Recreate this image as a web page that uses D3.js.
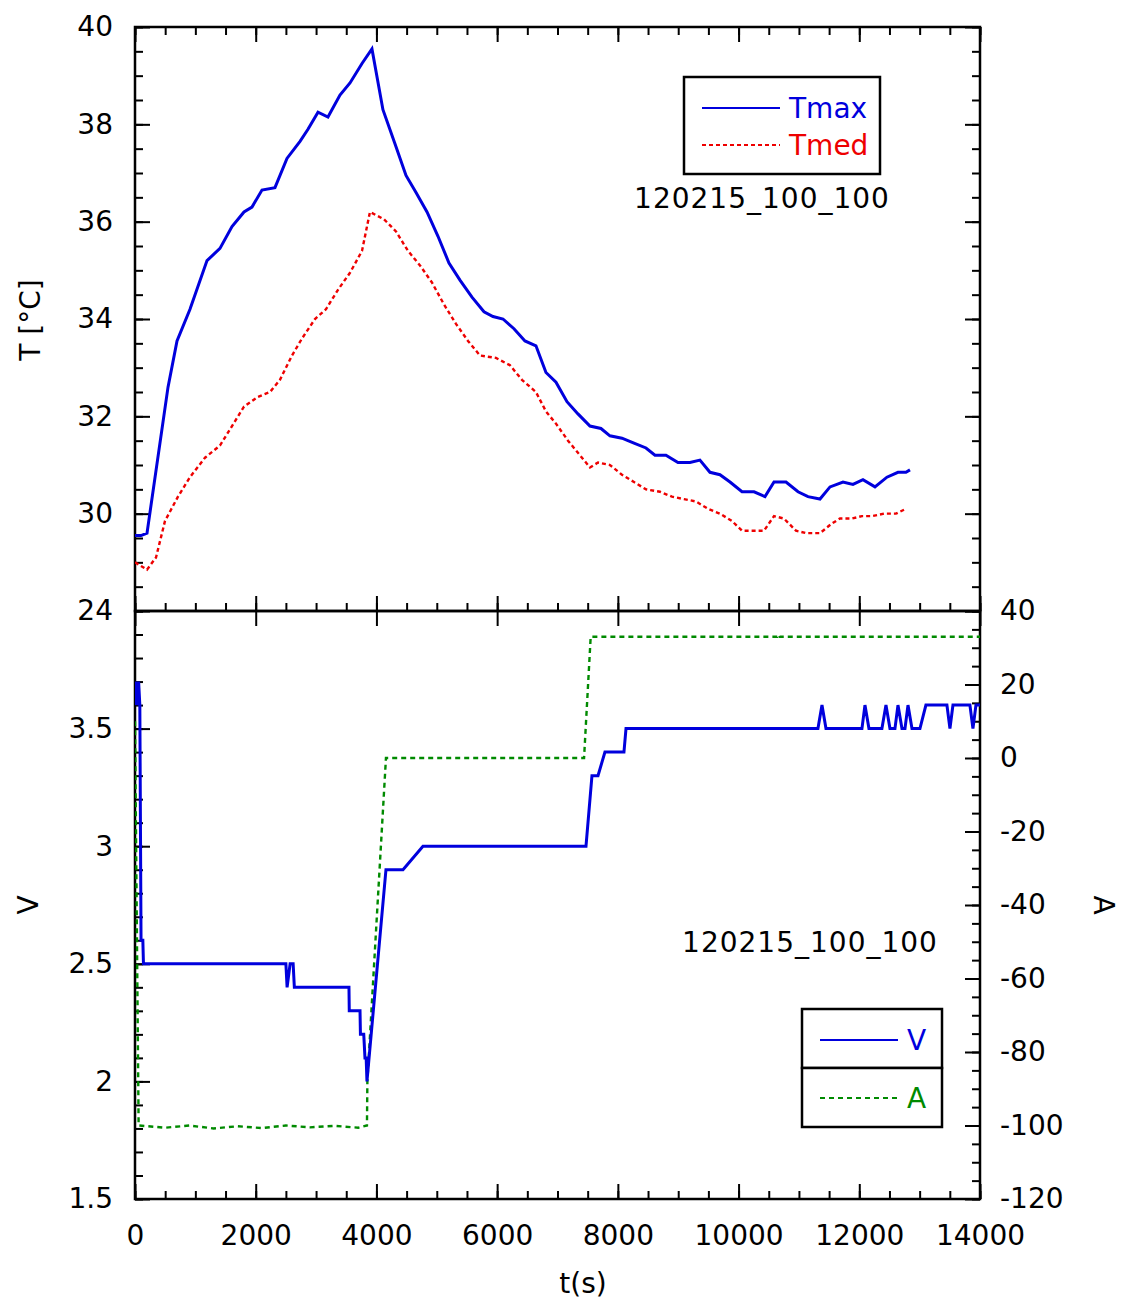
<!DOCTYPE html>
<html>
<head>
<meta charset="utf-8">
<script src="https://cdn.jsdelivr.net/npm/d3@7"></script>
<style>
  body { margin: 0; background: #fff; }
  text { font-family: "DejaVu Sans", sans-serif; }
</style>
</head>
<body>
<svg id="chart" width="1123" height="1300"></svg>
<script>
// ---- data ----
const tmaxTime = [0, 99, 199, 547, 696, 911, 1193, 1408, 1607, 1806, 1938, 2104, 2319, 2518, 2734, 2866, 3032, 3197, 3396, 3562, 3761, 3926,
  4108, 4307, 4490, 4656, 4838, 5020, 5202, 5384, 5583, 5782, 5931, 6097, 6279, 6461, 6643, 6809, 6975, 7157, 7339, 7538, 7720, 7869,
  8068, 8267, 8466, 8615, 8797, 8996, 9195, 9360, 9526, 9692, 9858, 10057, 10256, 10438, 10587, 10786, 10985, 11150, 11349, 11515,
  11730, 11895, 12061, 12260, 12458, 12641, 12773, 12840];
const tmax = [29.55, 29.55, 29.6, 32.6, 33.55, 34.2, 35.2, 35.45, 35.9, 36.2, 36.3, 36.65, 36.7, 37.3, 37.65, 37.9, 38.25, 38.15, 38.6, 38.85, 39.25, 39.55,
  38.3, 37.6, 36.95, 36.6, 36.2, 35.7, 35.15, 34.8, 34.45, 34.15, 34.05, 34.0, 33.8, 33.55, 33.45, 32.9, 32.7, 32.3, 32.05, 31.8, 31.75, 31.6,
  31.55, 31.45, 31.35, 31.2, 31.2, 31.05, 31.05, 31.1, 30.85, 30.8, 30.65, 30.45, 30.45, 30.35, 30.65, 30.65, 30.45, 30.35, 30.3, 30.55,
  30.65, 30.6, 30.7, 30.55, 30.75, 30.85, 30.85, 30.9];

const tmedTime = [0, 199, 348, 497, 712, 911, 1160, 1408, 1607, 1806, 2038, 2237, 2402, 2601, 2767, 2982, 3164, 3363, 3562, 3761, 3893,
  4125, 4324, 4523, 4722, 4920, 5119, 5318, 5517, 5716, 5981, 6213, 6411, 6643, 6809, 6975, 7174, 7372, 7538, 7671, 7869,
  8068, 8267, 8466, 8698, 8896, 9095, 9294, 9493, 9692, 9891, 10057, 10222, 10421, 10587, 10752, 10951, 11117, 11349, 11548,
  11680, 11879, 12044, 12210, 12409, 12607, 12773];
const tmed = [29.0, 28.85, 29.1, 29.85, 30.35, 30.75, 31.15, 31.4, 31.8, 32.2, 32.4, 32.5, 32.75, 33.25, 33.6, 34.0, 34.2, 34.6, 34.95, 35.4, 36.2,
  36.05, 35.8, 35.4, 35.1, 34.75, 34.3, 33.9, 33.55, 33.25, 33.2, 33.05, 32.75, 32.5, 32.1, 31.85, 31.5, 31.2, 30.95, 31.05, 31.0,
  30.8, 30.65, 30.5, 30.45, 30.35, 30.3, 30.25, 30.1, 30.0, 29.85, 29.65, 29.65, 29.65, 29.95, 29.9, 29.65, 29.6, 29.6, 29.8,
  29.9, 29.9, 29.95, 29.95, 30.0, 30.0, 30.1];

const voltTime = [0, 20, 40, 60, 80, 100, 130, 140, 2500, 2520, 2570, 2620, 2640, 3545, 3550, 3728, 3735, 3790, 3810, 3830, 3843,
  4158, 4440, 4771, 7472, 7571, 7671, 7786, 8101, 8135, 11315, 11382, 11448, 12044, 12094, 12160, 12375, 12442, 12508, 12591,
  12641, 12707, 12757, 12807, 12873, 13005, 13104, 13204, 13452, 13502, 13552, 13833, 13883, 13933, 14000];
const volt = [3.6, 3.7, 3.6, 3.7, 3.6, 2.6, 2.6, 2.5, 2.5, 2.4, 2.5, 2.5, 2.4, 2.4, 2.3, 2.3, 2.2, 2.2, 2.1, 2.1, 2.0,
  2.9, 2.9, 3.0, 3.0, 3.3, 3.3, 3.4, 3.4, 3.5, 3.5, 3.6, 3.5, 3.5, 3.6, 3.5, 3.5, 3.6, 3.5, 3.5,
  3.6, 3.5, 3.5, 3.6, 3.5, 3.5, 3.6, 3.6, 3.6, 3.5, 3.6, 3.6, 3.5, 3.6, 3.6];

const ampTime = [0, 60, 500, 900, 1300, 1700, 2100, 2500, 2900, 3300, 3700, 3843, 3850, 4158, 7440, 7550, 10640, 10660, 10680, 14000];
const amp = [10, -100, -100.6, -100, -100.8, -100.2, -100.7, -100, -100.5, -100.1, -100.6, -100, -88, 0, 0, 33, 33, 33.6, 33, 33];

const tempTicks = [28, 30, 32, 34, 36, 38, 40];
const tempLabels = ["24", "30", "32", "34", "36", "38", "40"];
const voltTicks = [1.5, 2, 2.5, 3, 3.5];
const ampTicks = [-120, -100, -80, -60, -40, -20, 0, 20, 40];
const timeTicks = [0, 2000, 4000, 6000, 8000, 10000, 12000, 14000];
const runLabel = "120215_100_100";

// ---- layout ----
const left = 135, right = 980;
const topY0 = 27, topY1 = 611, botY0 = 611, botY1 = 1199;

const svg = d3.select("#chart");

const x = d3.scaleLinear().domain([0, 14000]).range([left, right]);
const yT = d3.scaleLinear().domain([28, 40]).range([topY1, topY0]);
const yV = d3.scaleLinear().domain([1.5, 4]).range([botY1, botY0]);
const yA = d3.scaleLinear().domain([-120, 40]).range([botY1, botY0]);

const minorX = d3.range(0, 14001, 500);
const blue = "#0000dd", red = "#ee0000", green = "#008a00";

svg.append("defs").append("clipPath").attr("id", "plotClip")
  .append("rect").attr("x", left).attr("y", topY0)
  .attr("width", right - left).attr("height", botY1 - topY0);

// axis helper: ticks inside, minor + major in separate groups
function drawAxis(axisFn, scale, pos, minor, major, labels) {
  const gMinor = svg.append("g").attr("transform", pos)
    .call(axisFn(scale).tickValues(minor).tickSize(-8).tickFormat(""));
  const g = svg.append("g").attr("transform", pos)
    .call(axisFn(scale).tickValues(major).tickSize(-15)
      .tickFormat(labels ? (d, i) => labels[i] : ""));
  gMinor.selectAll("path").remove();
  g.selectAll("path").remove();
  svg.selectAll("g.tick line").attr("stroke", "#000").attr("stroke-width", 2);
  g.selectAll("text").attr("font-size", "28px").attr("fill", "#000");
  return g;
}

// top panel
drawAxis(d3.axisTop, x, `translate(0,${topY0})`, minorX, timeTicks, null);
drawAxis(d3.axisBottom, x, `translate(0,${topY1})`, minorX, timeTicks, null);
const gTL = drawAxis(d3.axisLeft, yT, `translate(${left},0)`, d3.range(28, 40.01, 0.5), tempTicks, tempLabels);
gTL.selectAll("text").attr("x", -22);
drawAxis(d3.axisRight, yT, `translate(${right},0)`, d3.range(28, 40.01, 0.5), tempTicks, null);

// bottom panel
drawAxis(d3.axisTop, x, `translate(0,${botY0})`, [], timeTicks, null);
const gB = drawAxis(d3.axisBottom, x, `translate(0,${botY1})`, minorX, timeTicks, timeTicks.map(String));
gB.selectAll("text").attr("y", 26).attr("dy", "0.71em");
const gVL = drawAxis(d3.axisLeft, yV, `translate(${left},0)`, d3.range(1.5, 4.01, 0.1), voltTicks, voltTicks.map(String));
gVL.selectAll("text").attr("x", -22);
const gAR = drawAxis(d3.axisRight, yA, `translate(${right},0)`, d3.range(-120, 40.1, 5), ampTicks, ampTicks.map(String));
gAR.selectAll("text").attr("x", 20);

// frames
svg.append("rect").attr("x", left).attr("y", topY0).attr("width", right - left).attr("height", topY1 - topY0)
  .attr("fill", "none").attr("stroke", "#000").attr("stroke-width", 2.5);
svg.append("rect").attr("x", left).attr("y", botY0).attr("width", right - left).attr("height", botY1 - botY0)
  .attr("fill", "none").attr("stroke", "#000").attr("stroke-width", 2.5);

// series
const plot = svg.append("g").attr("clip-path", "url(#plotClip)");

function series(times, vals, yScale, color, dash, width) {
  const line = d3.line().x((d) => x(d[0])).y((d) => yScale(d[1]));
  plot.append("path")
    .datum(times.map((t, i) => [t, vals[i]]))
    .attr("d", line)
    .attr("fill", "none")
    .attr("stroke", color)
    .attr("stroke-width", width)
    .attr("stroke-dasharray", dash)
    .attr("stroke-linejoin", "miter");
}

series(ampTime, amp, yA, green, "5,4", 2.4);
series(voltTime, volt, yV, blue, null, 3);
series(tmedTime, tmed, yT, red, "4,3", 2.4);
series(tmaxTime, tmax, yT, blue, null, 3);

// axis titles
svg.append("text").attr("transform", "translate(40,320) rotate(-90)")
  .attr("text-anchor", "middle").attr("font-size", "28px").text("T [°C]");
svg.append("text").attr("transform", "translate(38,905) rotate(-90)")
  .attr("text-anchor", "middle").attr("font-size", "28px").text("V");
svg.append("text").attr("transform", "translate(1094,905) rotate(90)")
  .attr("text-anchor", "middle").attr("font-size", "28px").text("A");
svg.append("text").attr("x", 583).attr("y", 1293)
  .attr("text-anchor", "middle").attr("font-size", "28px").text("t(s)");

// run labels
svg.append("text").attr("x", 762).attr("y", 208).attr("text-anchor", "middle")
  .attr("font-size", "28px").attr("letter-spacing", "1px").text(runLabel);
svg.append("text").attr("x", 810).attr("y", 952).attr("text-anchor", "middle")
  .attr("font-size", "28px").attr("letter-spacing", "1px").text(runLabel);

// legends
function legendRow(g, x0, y0, label, color, dash, w) {
  g.append("line").attr("x1", x0).attr("x2", x0 + 78).attr("y1", y0).attr("y2", y0)
    .attr("stroke", color).attr("stroke-width", w).attr("stroke-dasharray", dash);
  g.append("text").attr("x", x0 + 87).attr("y", y0 + 10).attr("font-size", "28px")
    .attr("fill", color).text(label);
}

const lgTop = svg.append("g");
lgTop.append("rect").attr("x", 684).attr("y", 77).attr("width", 196).attr("height", 97)
  .attr("fill", "#fff").attr("stroke", "#000").attr("stroke-width", 2.5);
legendRow(lgTop, 702, 108, "Tmax", blue, null, 2.2);
legendRow(lgTop, 702, 145, "Tmed", red, "4,3", 2.2);

const lgBot = svg.append("g");
lgBot.append("rect").attr("x", 802).attr("y", 1009).attr("width", 140).attr("height", 59)
  .attr("fill", "#fff").attr("stroke", "#000").attr("stroke-width", 2.5);
lgBot.append("rect").attr("x", 802).attr("y", 1068).attr("width", 140).attr("height", 59)
  .attr("fill", "#fff").attr("stroke", "#000").attr("stroke-width", 2.5);
legendRow(lgBot, 820, 1040, "V", blue, null, 2.2);
legendRow(lgBot, 820, 1098, "A", green, "5,4", 2.2);
</script>
</body>
</html>
